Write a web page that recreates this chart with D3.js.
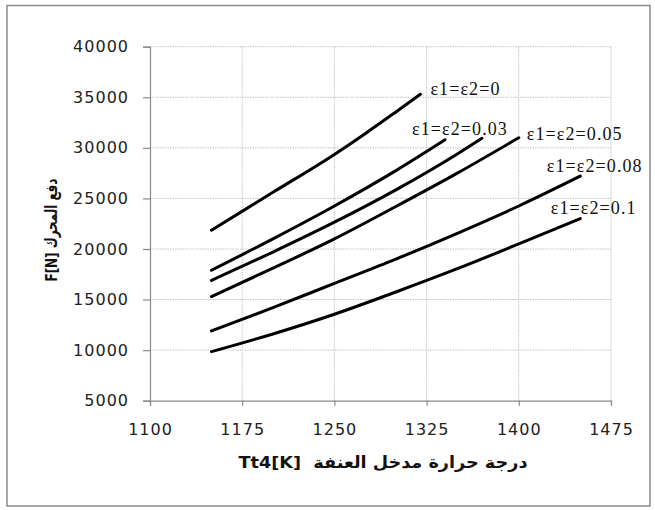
<!DOCTYPE html>
<html>
<head>
<meta charset="utf-8">
<script src="https://cdn.jsdelivr.net/npm/d3@7"></script>
<style>
  html, body { margin: 0; padding: 0; background: #fff; }
  svg { display: block; }
</style>
</head>
<body>
<svg id="chart" width="655" height="510"></svg>
<script>
// Turbine inlet temperature Tt4 [K] vs engine thrust F [N], one curve per ε1=ε2 value
const xTicks = [1100, 1175, 1250, 1325, 1400, 1475];
const yTicks = [5000, 10000, 15000, 20000, 25000, 30000, 35000, 40000];

const tempEps0   = [1150, 1200, 1250, 1275, 1300, 1320];
const thrustEps0 = [21850, 25600, 29350, 31400, 33550, 35300];

const tempEps03   = [1150, 1200, 1250, 1300, 1340];
const thrustEps03 = [17900, 21000, 24250, 27750, 30800];

const tempEps04   = [1150, 1200, 1250, 1300, 1350, 1370];
const thrustEps04 = [16900, 19700, 22650, 25850, 29400, 30950];

const tempEps05   = [1150, 1200, 1250, 1300, 1350, 1400];
const thrustEps05 = [15300, 18100, 21000, 24200, 27500, 31000];

const tempEps08   = [1150, 1200, 1250, 1300, 1350, 1400, 1450];
const thrustEps08 = [11900, 14200, 16600, 19000, 21550, 24250, 27200];

const tempEps10   = [1150, 1200, 1250, 1300, 1350, 1400, 1450];
const thrustEps10 = [9850, 11600, 13550, 15750, 18050, 20500, 23000];

const curveLabels = ["ε1=ε2=0", "ε1=ε2=0.03", "", "ε1=ε2=0.05", "ε1=ε2=0.08", "ε1=ε2=0.1"];

const xTitle = "Tt4[K]\u00A0\u00A0درجة حرارة مدخل العنفة";
const yTitle = "F[N] دفع المحرك";

const series = [
  [tempEps0, thrustEps0],
  [tempEps03, thrustEps03],
  [tempEps04, thrustEps04],
  [tempEps05, thrustEps05],
  [tempEps08, thrustEps08],
  [tempEps10, thrustEps10]
].map(([xs, ys], i) => ({
  label: curveLabels[i],
  points: xs.map((t, k) => ({ t, f: ys[k] }))
}));

// label offsets from each curve's last point
const labelOffset = [[10, 1], [-33, -4.5], [0, 0], [8, 2.5], [-33.5, -4.5], [-29.5, -4.5]];

const svg = d3.select("#chart");
const plot = { left: 150, right: 611, top: 46.7, bottom: 400.7 };

const x = d3.scaleLinear().domain([1100, 1475]).range([plot.left, plot.right]);
const y = d3.scaleLinear().domain([5000, 40000]).range([plot.bottom, plot.top]);

// outer frame
svg.append("rect")
  .attr("x", 7).attr("y", 5.5).attr("width", 643).attr("height", 500.5)
  .attr("fill", "#fff").attr("stroke", "#8a8a8a").attr("stroke-width", 1.5);

const tickFont = "'DejaVu Sans', Verdana, sans-serif";

// grid lines
const grid = svg.append("g");
grid.selectAll("line.h").data(yTicks.slice(1)).join("line")
  .attr("x1", plot.left).attr("x2", plot.right)
  .attr("y1", d => y(d)).attr("y2", d => y(d))
  .attr("stroke", "#c4c4c4").attr("stroke-dasharray", "1.5,1").attr("stroke-width", 1);
grid.selectAll("line.v").data(xTicks.slice(1)).join("line")
  .attr("y1", plot.top).attr("y2", plot.bottom)
  .attr("x1", d => x(d)).attr("x2", d => x(d))
  .attr("stroke", "#c4c4c4").attr("stroke-dasharray", "1.5,1").attr("stroke-width", 1);

// axes
const xAxis = d3.axisBottom(x).tickValues(xTicks).tickSize(5).tickPadding(17.5).tickFormat(d3.format("d"));
const yAxis = d3.axisLeft(y).tickValues(yTicks).tickSize(7).tickPadding(14).tickFormat(d3.format("d"));

const gx = svg.append("g").attr("transform", `translate(0,${plot.bottom})`).call(xAxis);
const gy = svg.append("g").attr("transform", `translate(${plot.left},0)`).call(yAxis);

[gx, gy].forEach(g => {
  g.select(".domain").attr("stroke", "#8a8a8a").attr("stroke-width", 1.2);
  g.selectAll(".tick line").attr("stroke", "#8a8a8a").attr("stroke-width", 1.2);
  g.selectAll(".tick text")
    .attr("fill", "#222")
    .style("font-family", tickFont)
    .style("font-size", "16px")
    .style("letter-spacing", "1px");
});
gx.selectAll(".tick text").attr("dy", "0.71em");

// curves
const line = d3.line()
  .x(d => x(d.t))
  .y(d => y(d.f))
  .curve(d3.curveMonotoneX);

svg.append("g").selectAll("path").data(series).join("path")
  .attr("d", d => line(d.points))
  .attr("fill", "none")
  .attr("stroke", "#000")
  .attr("stroke-width", 3)
  .attr("stroke-linecap", "round");

// curve labels
svg.append("g").selectAll("text").data(series.filter(s => s.label)).join("text")
  .attr("x", d => { const p = d.points[d.points.length - 1]; return x(p.t) + labelOffset[series.indexOf(d)][0]; })
  .attr("y", d => { const p = d.points[d.points.length - 1]; return y(p.f) + labelOffset[series.indexOf(d)][1]; })
  .attr("fill", "#111")
  .style("font-family", "'Liberation Serif', 'Times New Roman', serif")
  .style("font-size", "18px")
  .style("letter-spacing", "1.1px")
  .text(d => d.label);

// axis titles
svg.append("text")
  .attr("x", 383)
  .attr("y", 468)
  .attr("text-anchor", "middle")
  .attr("fill", "#111")
  .attr("textLength", 289)
  .attr("lengthAdjust", "spacingAndGlyphs")
  .style("font-family", tickFont)
  .style("font-weight", "bold")
  .style("font-size", "16.5px")
  .text(xTitle);

svg.append("text")
  .attr("transform", `translate(57,230) rotate(-90)`)
  .attr("text-anchor", "middle")
  .attr("fill", "#111")
  .attr("textLength", 103)
  .attr("lengthAdjust", "spacingAndGlyphs")
  .style("font-family", tickFont)
  .style("font-weight", "bold")
  .style("font-size", "16.5px")
  .text(yTitle);
</script>
</body>
</html>
